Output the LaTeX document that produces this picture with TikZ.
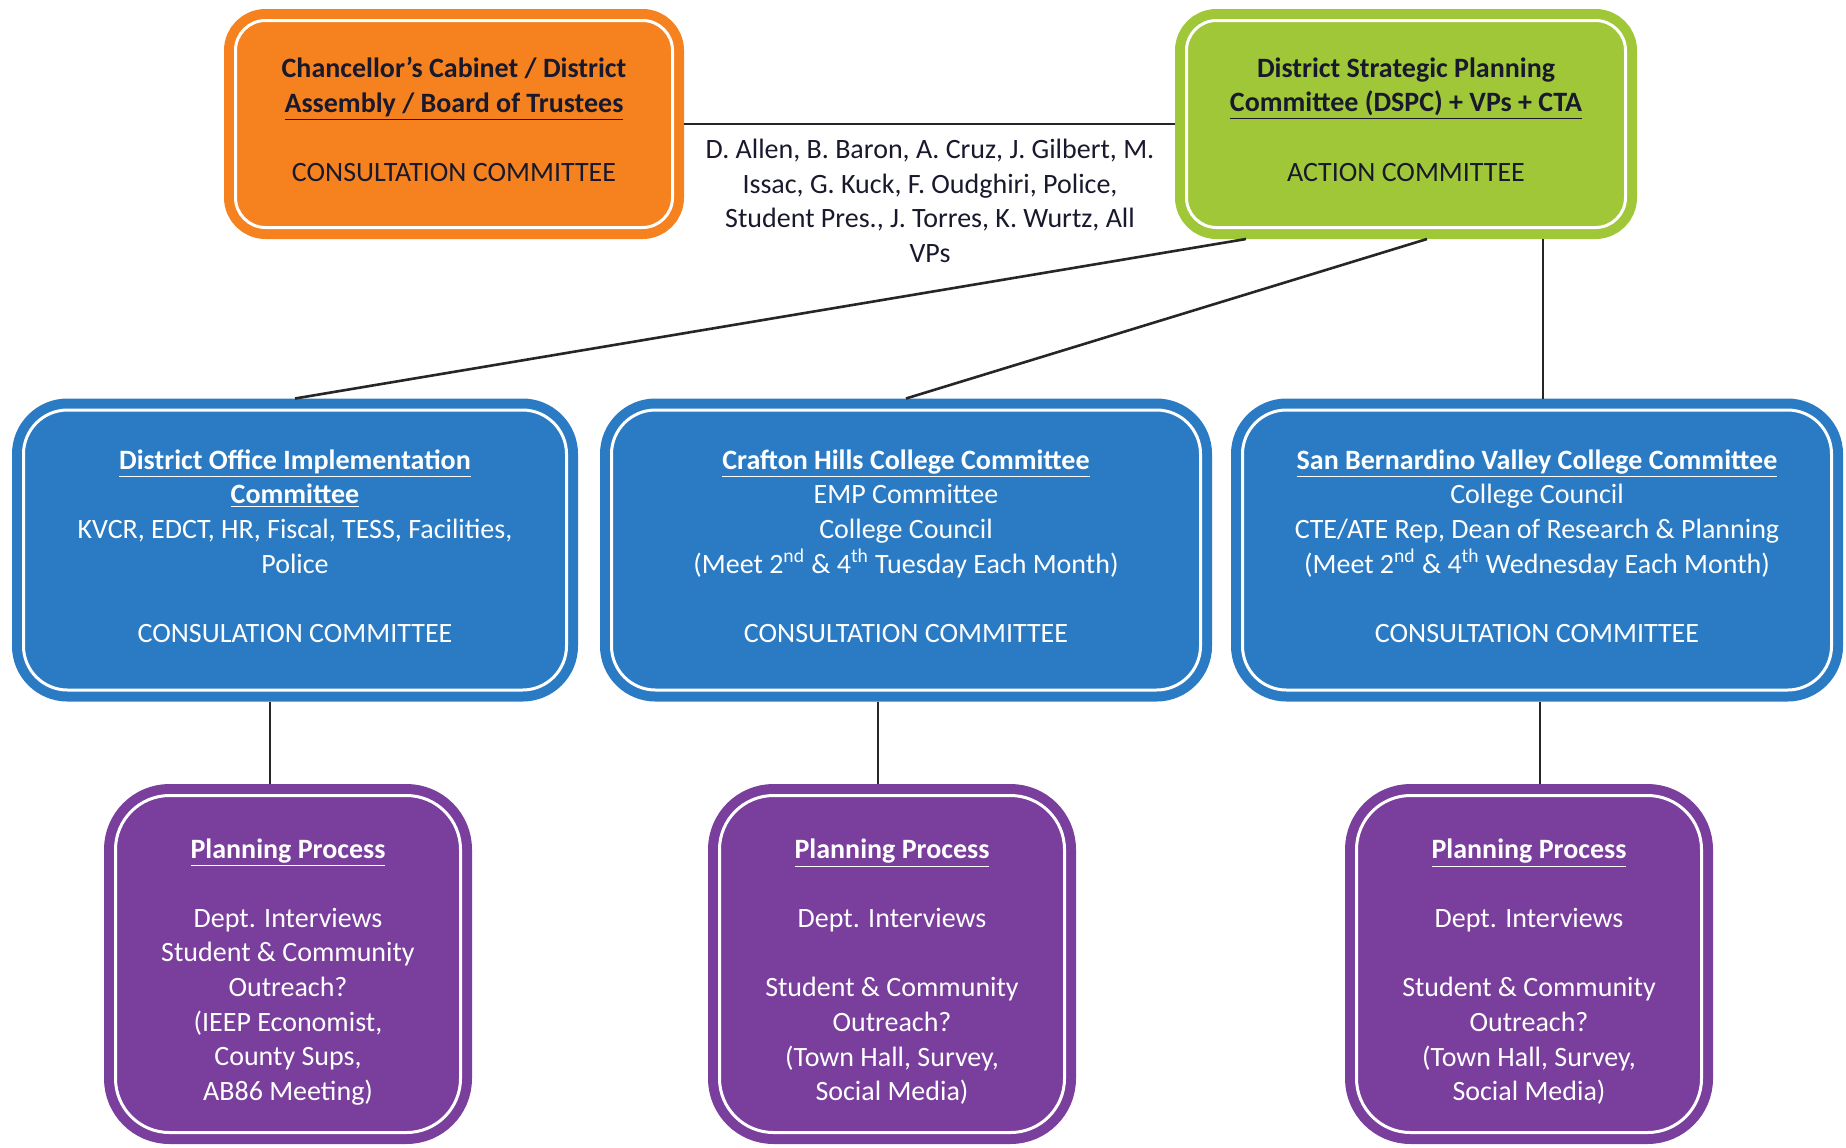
\documentclass[tikz,border=0pt]{standalone}
\usepackage{fontspec}
\setmainfont{Carlito}
\usepackage{xcolor}
\usepackage{tikz}
\usetikzlibrary{positioning,calc}

\definecolor{cabinetorange}{RGB}{245,130,31}
\definecolor{dspcgreen}{RGB}{160,199,56}
\definecolor{collegeblue}{RGB}{43,123,196}
\definecolor{processpurple}{RGB}{122,62,157}
\definecolor{inkdark}{RGB}{25,25,45}

\begin{document}
\begin{tikzpicture}[x=0.5pt, y=-0.5pt, semithick]
  % Define styles
  \tikzstyle{panel}=[rectangle, double=white, double distance=1.5pt, line width=5pt, outer sep=5.75pt, inner sep=0pt, align=center, font=\fontsize{14}{17.3}\selectfont]
  \tikzstyle{orangebox}=[panel, draw=cabinetorange, fill=cabinetorange, text=inkdark, rounded corners=15pt, minimum width=218.5pt, minimum height=103.5pt]
  \tikzstyle{greenbox}=[panel, draw=dspcgreen, fill=dspcgreen, text=inkdark, rounded corners=15pt, minimum width=219.5pt, minimum height=103.5pt]
  \tikzstyle{bluebox}=[panel, draw=collegeblue, fill=collegeblue, text=white, rounded corners=22pt, minimum height=140pt]
  \tikzstyle{purplebox}=[panel, draw=processpurple, fill=processpurple, text=white, rounded corners=27pt, minimum width=172.5pt, minimum height=168.5pt]
  \tikzstyle{members}=[align=center, inner sep=0pt, text=inkdark, font=\fontsize{14}{17.3}\selectfont]
  \tikzstyle{link}=[draw=black!85, line width=1.3pt]

  \useasboundingbox (0,0) rectangle (1846,1147);

  % Nodes
  \node[orangebox] (cabinet) at (454,124) {\textbf{Chancellor's Cabinet / District}\\ \underline{\textbf{Assembly / Board of Trustees}}\\[17.3pt] CONSULTATION COMMITTEE\rule[-4.7pt]{0pt}{0pt}};
  \node[greenbox] (dspc) at (1406,124) {\textbf{District Strategic Planning}\\ \underline{\textbf{Committee (DSPC) + VPs + CTA}}\\[17.3pt] ACTION COMMITTEE\rule[-4.7pt]{0pt}{0pt}};
  \node[members] (members) at (930,201) {D. Allen, B. Baron, A. Cruz, J. Gilbert, M.\\ Issac, G. Kuck, F. Oudghiri, Police,\\ Student Pres., J. Torres, K. Wurtz, All\\ VPs};

  \node[bluebox, minimum width=271.5pt] (district) at (295,550) {\underline{\textbf{District Office Implementation}}\\ \underline{\textbf{Committee}}\\ KVCR, EDCT, HR, Fiscal, TESS, Facilities,\\ Police\\[17.3pt] CONSULATION COMMITTEE\rule[-4.1pt]{0pt}{0pt}};
  \node[bluebox, minimum width=294.5pt] (crafton) at (906,550) {\underline{\textbf{Crafton Hills College Committee}}\\ EMP Committee\\ College Council\\ (Meet 2\textsuperscript{nd} \& 4\textsuperscript{th} Tuesday Each Month)\\[17.3pt] CONSULTATION COMMITTEE\rule[-4.1pt]{0pt}{0pt}};
  \node[bluebox, minimum width=294.5pt] (sbvc) at (1537,550) {\underline{\textbf{San Bernardino Valley College Committee}}\\ College Council\\ CTE/ATE Rep, Dean of Research \& Planning\\ (Meet 2\textsuperscript{nd} \& 4\textsuperscript{th} Wednesday Each Month)\\[17.3pt] CONSULTATION COMMITTEE\rule[-4.1pt]{0pt}{0pt}};

  \node[purplebox] (plan1) at (288,964) {\rule{0pt}{17.5pt}\underline{\textbf{Planning Process}}\\[17.3pt] Dept. Interviews\\ Student \& Community\\ Outreach?\\ (IEEP Economist,\\ County Sups,\\ AB86 Meeting)};
  \node[purplebox] (plan2) at (892,964) {\rule{0pt}{17.5pt}\underline{\textbf{Planning Process}}\\[17.3pt] Dept. Interviews\\[17.3pt] Student \& Community\\ Outreach?\\ (Town Hall, Survey,\\ Social Media)};
  \node[purplebox] (plan3) at (1529,964) {\rule{0pt}{17.5pt}\underline{\textbf{Planning Process}}\\[17.3pt] Dept. Interviews\\[17.3pt] Student \& Community\\ Outreach?\\ (Town Hall, Survey,\\ Social Media)};

  % Edges
  \draw[link] (cabinet) -- (dspc);
  \draw[link] ([xshift=-80pt]dspc.south) -- (district.north);
  \draw[link] ([xshift=10.5pt]dspc.south) -- (crafton.north);
  \draw[link] ([xshift=68.5pt]dspc.south) -- ([xshift=68.5pt]dspc.south |- sbvc.north);
  \draw[link] ([xshift=-12.5pt]district.south) -- ([xshift=-12.5pt]district.south |- plan1.north);
  \draw[link] ([xshift=-14pt]crafton.south) -- ([xshift=-14pt]crafton.south |- plan2.north);
  \draw[link] ([xshift=1.5pt]sbvc.south) -- ([xshift=1.5pt]sbvc.south |- plan3.north);
\end{tikzpicture}
\end{document}
